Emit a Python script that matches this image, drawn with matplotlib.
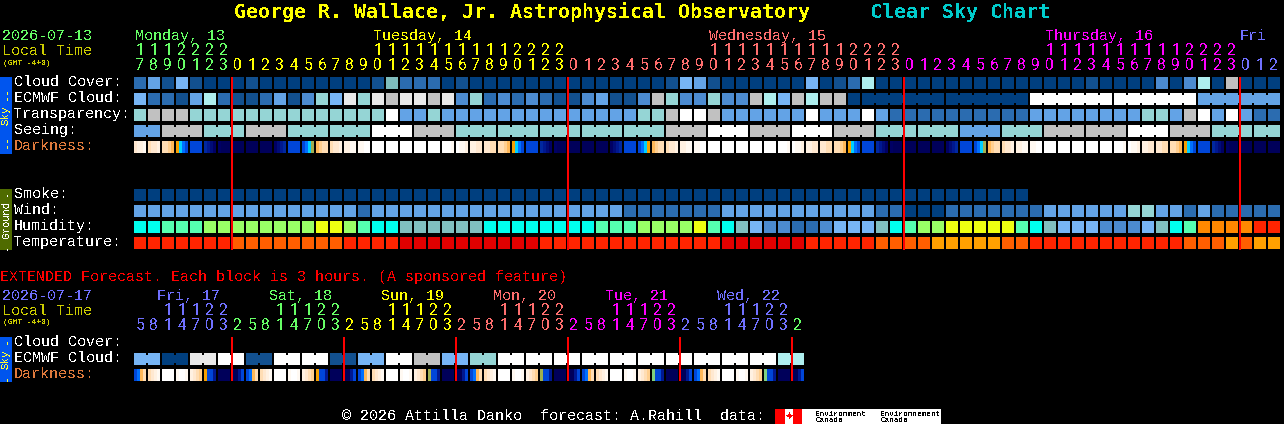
import matplotlib
matplotlib.use("Agg")
import matplotlib.pyplot as plt

plt.rcParams['font.family'] = ['Liberation Mono', 'DejaVu Sans Mono']
plt.rcParams['text.antialiased'] = False

# ---- data ----
hours_top = [17,18,19,20,21,22,23,
             0,1,2,3,4,5,6,7,8,9,10,11,12,13,14,15,16,17,18,19,20,21,22,23,
             0,1,2,3,4,5,6,7,8,9,10,11,12,13,14,15,16,17,18,19,20,21,22,23,
             0,1,2,3,4,5,6,7,8,9,10,11,12,13,14,15,16,17,18,19,20,21,22,23,
             0,1,2]
hour_colors_top = ['#66FF66']*7 + ['#FFFF00']*24 + ['#FF6E6E']*24 + ['#FF00FF']*24 + ['#7070FF']*3
days_top = ["Monday, 13", "Tuesday, 14", "Wednesday, 15", "Thursday, 16", "Fri"]
day_x_top = [135, 373, 709, 1045, 1240]
day_colors_top = ['#66FF66', '#FFFF00', '#FF6E6E', '#FF00FF', '#7070FF']

hours_ext = [5,8,11,14,17,20,23,
             2,5,8,11,14,17,20,23,
             2,5,8,11,14,17,20,23,
             2,5,8,11,14,17,20,23,
             2,5,8,11,14,17,20,23,
             2,5,8,11,14,17,20,23,
             2]
hour_colors_ext = ['#7070FF']*7 + ['#66FF66']*8 + ['#FFFF00']*8 + ['#FF6E6E']*8 + ['#FF00FF']*8 + ['#7070FF']*8 + ['#66FF66']
days_ext = ["Fri, 17", "Sat, 18", "Sun, 19", "Mon, 20", "Tue, 21", "Wed, 22"]
day_x_ext = [157, 269, 381, 493, 605, 717]
day_colors_ext = ['#7070FF', '#66FF66', '#FFFF00', '#FF6E6E', '#FF00FF', '#7070FF']

cloud_cover = ("241510001" "00000000" "1T22"
               "2010000000" "0000000154" "1000000501"
               "2600000000" "0000000100" "00303608000")
ecmwf_3h = ("5221462112" "41375979899"
            "8937232321" "1341138733" "73386586880")
ecmwf_6h = ["0", "0", "A", "A", "4"]
transparency = ("788877777777777777A44"
                "7444444444" "4444477" "8AA"
                "84444" "44A44" "4A42222222"
                "2224444444" "47748A4A422")
seeing = ["4", "8", "7", "8", "7", "7", "A", "8", "7", "7", "7", "7", "7", "8",
          "A", "8", "A", "8", "7", "7", "4", "7", "8", "8", "A", "8", "7", "7"]
seeing_sizes = [2] + [3]*26 + [2]
smoke = "0"*64
wind = ("4444444444" "4444442444" "4"
        "4444444444" "4444" "2222222"
        "44444444444" "22" "000" "2222222" "444444" "77" "44" "2" "4" "22222")
humidity = ("ccggglllll" "lllyylgcct" "tttttccccc" "cccggg" "llll"
            "ygct533223" "555tcgllyy" "yyygct5553" "335tcgoooorr")
temperature = ("rrrrrrrOOO" "OOOOOrrrrR" "RRRRRRRRRr" "rrrrrrrrrr"
               "rrRRRRRRrr" "rrrOOOONNN" "NNOOrrrrrr" "rrrrrOOONONN")

top_darkness = ("cbba dccb ddef gijk kkkk mnop pqqq qqqq qqqq qqqq ponm kkkk "
                "kjiH fedd dccb bbaa aaWW WWWW WWWW WWWW WWWW WWWW WWWa Waab "
                "bbcc ccdd ddef gijk kkkk mnop pqqq qqqq qqqq qqqq ponm kkkk "
                "kjig fedd dccb bbaa aaWW WWWW WWWW WWWW WWWW WWWW WWWa Waab "
                "bbcc ccdd ddef gijk kkkk mnop pqqq qqqq qqqq qqqq ponm kkkk "
                "kjiH fedd dccb bbaa aaWW WWWW WWWW WWWW WWWW WWWW WWWa Waab "
                "bbcc ccdd ddef gijk kkkk mnop pqqq qqqq qqqq qqqq").split()
ext_ecmwf = ["5", "0", "9", "A", "1", "A", "A", "1", "5", "A", "8", "5",
             "7", "A", "A", "A", "A", "A", "A", "A", "A", "A", "A", "6"]
ext_darkness = ("kjfd dcba WWWW aWWa bcde gkkn qqqq qqnk "
                "kjfd dcba WWWW aWWa bcde gkkn qqqq qqnk "
                "kjfd dcba WWWW aWWa bcde Hkkn qqqq qqnk "
                "kjfd dcba WWWW aWWa bcde Hkkn qqqq qqnk "
                "kjfd dcba WWWW aWWa bcde hkkn qqqq qqnk "
                "kjfd dcba WWWW aWWa bcde hkkn qqqq qqnk").split()

labels_sky = ["Cloud Cover:", "ECMWF Cloud:", "Transparency:", "Seeing:", "Darkness:"]
labels_ground = ["Smoke:", "Wind:", "Humidity:", "Temperature:"]
labels_ext = ["Cloud Cover:", "ECMWF Cloud:", "Darkness:"]
midnight_top = [7, 31, 55, 79]
midnight_ext = [7, 15, 23, 31, 39, 47]

assert len(hours_top) == 82 and len(cloud_cover) == 82 and len(transparency) == 82
assert len(ecmwf_3h) == 52 and len(wind) == 82 and len(humidity) == 82 and len(temperature) == 82
assert len(top_darkness) == 82 and len(ext_darkness) == 48 and sum(seeing_sizes) == 82

# ---- style ----
BLOCK = {'0': '#003F7F', '1': '#12508F', '2': '#2B6CB0', '3': '#4C8BD0', '4': '#63A3E6',
         '5': '#77B5F5', '6': '#AEEEEE', '7': '#95D5D5', '8': '#C1C1C1', '9': '#E9E9E9',
         'A': '#FFFFFF', 'T': '#7FBDBD',
         'c': '#00FFEE', 'g': '#55FFB0', 'l': '#99FF66', 'y': '#EEFF11', 't': '#80BFBF',
         'o': '#FF8800', 'r': '#FF2400', 'R': '#E00000', 'O': '#FF5E00', 'N': '#FFA000'}
DARK = {'W': '#FFFFFF', 'a': '#FFF9F2', 'b': '#FFF1E2', 'c': '#FFE8D0', 'd': '#FFDDB4',
        'e': '#FFCF90', 'f': '#FFB858', 'g': '#F5A000', 'H': '#A0B050', 'h': '#80D080',
        'i': '#00D0FF', 'j': '#0070FF', 'k': '#0046D8', 'm': '#0028A0', 'n': '#001890',
        'o': '#000C78', 'p': '#000064', 'q': '#00005A'}
X0, STEP, SIZE = 134, 14, 12
TXT = 10.8   # 9 px advance
BOLD = 'DejaVu Sans Mono'

fig = plt.figure(figsize=(12.84, 4.24), dpi=100, facecolor='black')
ax = fig.add_axes([0, 0, 1, 1])
ax.set_xlim(0, 1284)
ax.set_ylim(424, 0)
ax.axis('off')


def blocks(codes, top, sizes=None):
    sizes = sizes or [1]*len(codes)
    i = 0
    for code, n in zip(codes, sizes):
        c = BLOCK[code]
        xs = [X0 + STEP*(i+k) for k in range(n)]
        ax.bar(xs, SIZE, bottom=top, width=SIZE, align='edge', color=c, linewidth=0, antialiased=False, zorder=2)
        if n > 1:
            ax.bar([x + SIZE for x in xs[:-1]], SIZE-4, bottom=top+2, width=STEP-SIZE, align='edge',
                   color=c, linewidth=0, antialiased=False, zorder=2)
        i += n


def darkness(cells, top):
    for i, cell in enumerate(cells):
        for k, code in enumerate(cell):
            ax.bar(X0 + STEP*i + 3*k, SIZE, bottom=top, width=3, align='edge', color=DARK[code],
                   linewidth=0, antialiased=False, zorder=2)


def hour_digits(hours, colors, y_tens, y_units):
    for i, (h, c) in enumerate(zip(hours, colors)):
        x = X0 + STEP*i + 6
        if h >= 10:
            ax.text(x, y_tens, str(h // 10), color=c, fontsize=11.3, ha='center', va='baseline',
                    family='Roboto')
        ax.text(x, y_units, str(h % 10), color=c, fontsize=11.3, ha='center', va='baseline',
                family='Roboto')


def side_bar(y0, y1, color, text, tcolor, y_text, dash_y, fs=7.8):
    ax.bar(0, y1-y0, bottom=y0, width=12, align='edge', color=color, linewidth=0, antialiased=False, zorder=2)
    ax.text(6, y_text, text, color=tcolor, fontsize=fs, rotation=90, ha='center', va='center', zorder=3)
    for y, dash in dash_y:
        ax.text(6, y, dash, color=tcolor, fontsize=fs, rotation=90, ha='center', va='center', zorder=3)


def label(x, y, s, c='white', fs=TXT, **kw):
    ax.text(x, y, s, color=c, fontsize=fs, ha='left', va='baseline', zorder=4, **kw)


# ---- title ----
label(234, 18, "George R. Wallace, Jr. Astrophysical Observatory", '#FFFF00', 14.35, fontweight='bold', family=BOLD)
label(870, 18, "Clear Sky Chart", '#00CCCC', 14.35, fontweight='bold', family=BOLD)

# ---- header top ----
label(2, 40, "2026-07-13", '#66FF66')
label(2, 55, "Local Time", '#CCCC00')
label(3, 65, "(GMT -4+0)", '#CCCC00', 5.8)
for s, x, c in zip(days_top, day_x_top, day_colors_top):
    label(x, 40, s, c)
hour_digits(hours_top, hour_colors_top, 55, 70)

# ---- sky and ground rows ----
for s, y in zip(labels_sky, [86, 102, 118, 134]):
    label(14, y, s)
label(14, 150, labels_sky[4], '#E07A3C')
blocks(cloud_cover, 77)
blocks(list(ecmwf_3h) + ecmwf_6h, 93, [1]*len(ecmwf_3h) + [6]*len(ecmwf_6h))
blocks(transparency, 109)
blocks(seeing, 125, seeing_sizes)
darkness(top_darkness, 141)

for s, y in zip(labels_ground, [198, 214, 230, 246]):
    label(14, y, s)
blocks(smoke, 189)
blocks(wind, 205)
blocks(humidity, 221)
blocks(temperature, 237)

side_bar(77, 154, '#0055EE', "Sky", '#FFFF33', 115, [(94, "--"), (141, "--")])
side_bar(189, 250, '#4F6B00', "Ground", '#FFFFFF', 220, [(193, "-"), (247, "-")], fs=7.4)

for i in midnight_top:
    x = X0 + STEP*i
    ax.bar(x-1, 250-77, bottom=77, width=2, align='edge', color='#FF0000', linewidth=0, antialiased=False, zorder=5)

# ---- extended ----
label(0, 281, "EXTENDED Forecast. Each block is 3 hours. (A sponsored feature)", '#FF0000')
label(2, 300, "2026-07-17", '#7070FF')
label(2, 315, "Local Time", '#CCCC00')
label(3, 324, "(GMT -4+0)", '#CCCC00', 5.8)
for s, x, c in zip(days_ext, day_x_ext, day_colors_ext):
    label(x, 300, s, c)
hour_digits(hours_ext, hour_colors_ext, 315, 330)
label(14, 346, labels_ext[0])
label(14, 362, labels_ext[1])
label(14, 378, labels_ext[2], '#E07A3C')
blocks(ext_ecmwf, 353, [2]*len(ext_ecmwf))
darkness(ext_darkness, 369)
side_bar(337, 382, '#0055EE', "Sky", '#FFFF33', 359, [(341, "-"), (378, "-")])
for i in midnight_ext:
    x = X0 + STEP*i
    ax.bar(x-1, 381-337, bottom=337, width=2, align='edge', color='#FF0000', linewidth=0, antialiased=False, zorder=5)

# ---- footer ----
label(342, 420, "\u00a9 2026 Attilla Danko  forecast: A.Rahill  data:")
ax.bar(775, 15, bottom=409, width=166, align='edge', color='white', linewidth=0, antialiased=False, zorder=2)
ax.bar([775, 793], 15, bottom=409, width=[10, 9], align='edge', color='#FF0000', linewidth=0, antialiased=False, zorder=3)
ax.text(789, 416.5, "\u2726", color='#FF0000', fontsize=8, ha='center', va='center', zorder=4,
        family='DejaVu Sans')
for x, a, b in [(815.5, "Environment", "Canada"), (880.5, "Environnement", "Canada")]:
    label(x, 415.5, a, 'black', 5.5)
    label(x, 422.5, b, 'black', 5.5)

fig.savefig("out.png", dpi=100, facecolor='black')
